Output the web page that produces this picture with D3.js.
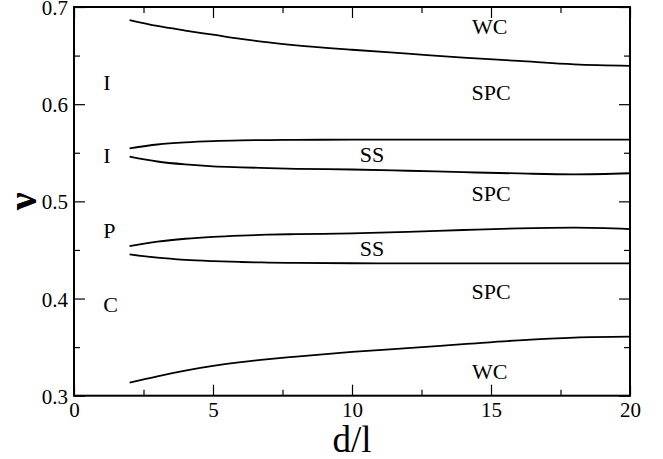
<!DOCTYPE html>
<html>
<head>
<meta charset="utf-8">
<script src="https://cdn.jsdelivr.net/npm/d3@7"></script>
<style>
  body { margin: 0; background: #fff; }
  svg { display: block; }
  svg text { font-family: 'Liberation Serif', 'Times New Roman', Tinos, serif !important; }
</style>
</head>
<body>
<svg id="chart" width="663" height="459" font-family="Liberation Serif"></svg>
<script>
// ---- data ----
const dValues = [2, 3, 4, 5, 6, 7, 8, 10, 12, 14, 16, 18, 20];
const wcUpper   = [0.6866, 0.6805, 0.6758, 0.6715, 0.6672, 0.6635, 0.6605, 0.6560, 0.6520, 0.6480, 0.6445, 0.6410, 0.6395];
const ssUpperTop = [0.5546, 0.5585, 0.5607, 0.5620, 0.5627, 0.5631, 0.5633, 0.5635, 0.5636, 0.5636, 0.5636, 0.5636, 0.5636];
const ssUpperBot = [0.5460, 0.5410, 0.5380, 0.5360, 0.5350, 0.5342, 0.5335, 0.5328, 0.5315, 0.5300, 0.5287, 0.5278, 0.5289];
const ssLowerTop = [0.4540, 0.4585, 0.4615, 0.4635, 0.4648, 0.4657, 0.4663, 0.4670, 0.4685, 0.4705, 0.4722, 0.4729, 0.4715];
const ssLowerBot = [0.4455, 0.4420, 0.4398, 0.4385, 0.4376, 0.4370, 0.4366, 0.4363, 0.4362, 0.4362, 0.4362, 0.4362, 0.4362];
const wcLower   = [0.3134, 0.3200, 0.3258, 0.3306, 0.3345, 0.3376, 0.3402, 0.3450, 0.3490, 0.3530, 0.3570, 0.3598, 0.3607];
const boundaries = [wcUpper, ssUpperTop, ssUpperBot, ssLowerTop, ssLowerBot, wcLower];

const xMajorTicks = [0, 5, 10, 15, 20];
const xMinorTicks = [2.5, 7.5, 12.5, 17.5];
const yMajorTicks = [0.3, 0.4, 0.5, 0.6, 0.7];
const yMinorTicks = [0.35, 0.45, 0.55, 0.65];

const regionLabels = [
  { text: "WC",  d: 14.95, v: 0.6725 },
  { text: "SPC", d: 15.0,  v: 0.6046 },
  { text: "SS",  d: 10.72, v: 0.5410 },
  { text: "SPC", d: 15.0,  v: 0.5000 },
  { text: "SS",  d: 10.72, v: 0.4440 },
  { text: "SPC", d: 15.0,  v: 0.4000 },
  { text: "WC",  d: 14.95, v: 0.3170 }
];
const sideLabels = [
  { text: "I", d: 1.05, v: 0.6146 },
  { text: "I", d: 1.05, v: 0.5392 },
  { text: "P", d: 1.05, v: 0.4620 },
  { text: "C", d: 1.05, v: 0.3857 }
];

// ---- layout ----
const FONT = "'Liberation Serif'";
const W = 663, H = 459;
const margin = { top: 7, right: 33, bottom: 63.3, left: 74 };
const iw = W - margin.left - margin.right;
const ih = H - margin.top - margin.bottom;

const svg = d3.select("#chart");
const g = svg.append("g").attr("transform", `translate(${margin.left},${margin.top})`);

const x = d3.scaleLinear().domain([0, 20]).range([0, iw]);
const y = d3.scaleLinear().domain([0.3, 0.7]).range([ih, 0]);

// axes: major ticks (inside) with labels
const fmtY = d3.format(".1f");
g.append("g").attr("transform", `translate(0,${ih})`)
  .call(d3.axisBottom(x).tickValues(xMajorTicks).tickSize(-11).tickPadding(6).tickFormat(d3.format("d")));
const axLeft = g.append("g")
  .call(d3.axisLeft(y).tickValues(yMajorTicks).tickSize(-11).tickPadding(6).tickFormat(fmtY));
g.append("g")
  .call(d3.axisTop(x).tickValues(xMajorTicks).tickSize(-11).tickFormat(""));
g.append("g").attr("transform", `translate(${iw},0)`)
  .call(d3.axisRight(y).tickValues(yMajorTicks).tickSize(-11).tickFormat(""));

// minor ticks
g.append("g").attr("transform", `translate(0,${ih})`)
  .call(d3.axisBottom(x).tickValues(xMinorTicks).tickSize(-6).tickFormat(""));
g.append("g")
  .call(d3.axisTop(x).tickValues(xMinorTicks).tickSize(-6).tickFormat(""));
g.append("g")
  .call(d3.axisLeft(y).tickValues(yMinorTicks).tickSize(-6).tickFormat(""));
g.append("g").attr("transform", `translate(${iw},0)`)
  .call(d3.axisRight(y).tickValues(yMinorTicks).tickSize(-6).tickFormat(""));

g.selectAll(".domain").remove();
g.selectAll("g").attr("font-family", "Liberation Serif");
g.selectAll(".tick line").attr("stroke", "#000").attr("stroke-width", 1.2);
g.selectAll(".tick text").filter(function () { return this.textContent !== ""; })
  .attr("fill", "#000")
  .attr("font-family", "Liberation Serif")
  .style("font-family", FONT)
  .style("font-size", "21px");
axLeft.selectAll(".tick text").attr("dy", "0.36em");

// frame
g.append("rect").attr("x", 0).attr("y", 0).attr("width", iw).attr("height", ih)
  .attr("fill", "none").attr("stroke", "#000").attr("stroke-width", 2);

// boundary curves
const line = d3.line()
  .x((d, i) => x(dValues[i]))
  .y(d => y(d))
  .curve(d3.curveMonotoneX);
g.selectAll("path.boundary").data(boundaries).enter().append("path")
  .attr("class", "boundary")
  .attr("d", d => line(d))
  .attr("fill", "none")
  .attr("stroke", "#000")
  .attr("stroke-width", 1.8);

// region labels
g.selectAll("text.region").data(regionLabels).enter().append("text")
  .attr("class", "region")
  .attr("x", d => x(d.d))
  .attr("y", d => y(d.v))
  .attr("text-anchor", "middle")
  .attr("font-family", "Liberation Serif")
  .style("font-size", "22px")
  .text(d => d.text);

g.selectAll("text.side").data(sideLabels).enter().append("text")
  .attr("class", "side")
  .attr("x", d => x(d.d))
  .attr("y", d => y(d.v))
  .attr("text-anchor", "start")
  .attr("font-family", "Liberation Serif")
  .style("font-size", "22px")
  .text(d => d.text);

// axis titles
svg.append("text")
  .attr("x", margin.left + iw / 2)
  .attr("y", 452)
  .attr("text-anchor", "middle")
  .attr("font-family", "Liberation Serif")
  .style("font-size", "37px")
  .text("d/l");

svg.append("text")
  .attr("transform", `translate(36,${margin.top + ih / 2}) rotate(-90)`)
  .attr("text-anchor", "middle")
  .attr("font-family", "Liberation Serif")
  .style("font-size", "40px")
  .style("font-weight", "bold")
  .text("ν");
</script>
</body>
</html>
